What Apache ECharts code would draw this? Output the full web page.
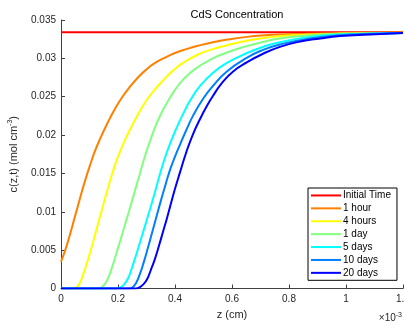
<!DOCTYPE html>
<html>
<head>
<meta charset="utf-8">
<script src="https://cdn.jsdelivr.net/npm/echarts@6/dist/echarts.min.js"></script>
<style>html,body{margin:0;padding:0;background:#fff}#c{width:404px;height:328px}</style>
</head>
<body>
<div id="c"></div>
<script>
// z in units of 1e-3 cm, c in mol cm^-3
const seriesNames = ['Initial Time','1 hour','4 hours','1 day','5 days','10 days','20 days'];
const xTicks = [0, 0.2, 0.4, 0.6, 0.8, 1, 1.2];

const zInit = [0, 1.2];
const cInit = [0.0334, 0.0334];

const zHour = [0,0.014,0.032,0.049,0.067,0.084,0.102,0.119,0.137,0.165,0.189,0.214,0.242,0.270,0.298,0.330,0.365,0.400,0.440,0.477,0.533,0.593,0.653,0.716,0.768,0.874,0.979,1.2];
const cHour = [0.0035,0.0049,0.0071,0.0094,0.0118,0.0140,0.0161,0.0179,0.0195,0.0217,0.0234,0.0249,0.0263,0.0275,0.0285,0.0294,0.0301,0.0307,0.0312,0.0316,0.0321,0.0325,0.0328,0.0330,0.0331,0.0332,0.0333,0.0334];

const z4h = [0,0.042,0.053,0.067,0.081,0.095,0.109,0.123,0.137,0.151,0.165,0.179,0.200,0.225,0.242,0.260,0.284,0.305,0.333,0.365,0.393,0.428,0.481,0.533,0.593,0.653,0.716,0.768,0.874,0.979,1.2];
const c4h = [0,0,0.0001,0.0008,0.0022,0.0038,0.0056,0.0075,0.0094,0.0113,0.0131,0.0149,0.0172,0.0194,0.0207,0.0220,0.0236,0.0248,0.0261,0.0274,0.0284,0.0294,0.0305,0.0312,0.0318,0.0323,0.0327,0.0329,0.0331,0.0332,0.0333];

const z1d = [0,0.130,0.140,0.154,0.168,0.182,0.196,0.211,0.225,0.239,0.256,0.277,0.295,0.316,0.333,0.354,0.375,0.400,0.428,0.470,0.533,0.593,0.653,0.716,0.768,0.874,0.979,1.2];
const c1d = [0,0,0.0001,0.0006,0.0016,0.0031,0.0048,0.0066,0.0084,0.0101,0.0123,0.0150,0.0173,0.0196,0.0213,0.0230,0.0244,0.0259,0.0272,0.0286,0.0300,0.0309,0.0316,0.0322,0.0326,0.0330,0.0332,0.0333];

const z5d = [0,0.196,0.207,0.221,0.235,0.249,0.263,0.277,0.295,0.312,0.330,0.347,0.368,0.386,0.404,0.425,0.453,0.488,0.533,0.582,0.653,0.709,0.768,0.874,0.979,1.084,1.2];
const c5d = [0,0,0.0001,0.0005,0.0013,0.0027,0.0043,0.0060,0.0082,0.0103,0.0126,0.0149,0.0174,0.0192,0.0208,0.0225,0.0245,0.0264,0.0281,0.0294,0.0307,0.0315,0.0321,0.0328,0.0331,0.0332,0.0333];

const z10d = [0,0.239,0.249,0.263,0.277,0.291,0.305,0.319,0.333,0.347,0.365,0.382,0.400,0.418,0.439,0.463,0.498,0.533,0.582,0.653,0.709,0.768,0.874,0.979,1.084,1.2];
const c10d = [0,0,0.0001,0.0007,0.0019,0.0035,0.0053,0.0072,0.0091,0.0110,0.0133,0.0154,0.0172,0.0188,0.0206,0.0225,0.0247,0.0264,0.0283,0.0301,0.0311,0.0318,0.0326,0.0330,0.0332,0.0333];

const z20d = [0,0.263,0.274,0.288,0.302,0.316,0.330,0.344,0.358,0.372,0.386,0.400,0.418,0.439,0.463,0.488,0.512,0.533,0.565,0.604,0.653,0.709,0.768,0.839,0.909,0.979,1.084,1.2];
const c20d = [0,0,0.0001,0.0005,0.0012,0.0025,0.0039,0.0056,0.0074,0.0092,0.0111,0.0130,0.0152,0.0177,0.0201,0.0221,0.0238,0.0251,0.0268,0.0283,0.0295,0.0306,0.0315,0.0322,0.0326,0.0329,0.0331,0.0333];

const colors = ['#ff0000','#ff8000','#ffff00','#80ff80','#00ffff','#0080ff','#0000ff'];
const zs = [zInit, zHour, z4h, z1d, z5d, z10d, z20d];
const cs = [cInit, cHour, c4h, c1d, c5d, c10d, c20d];

const font = 'Liberation Sans, Arial, Helvetica, sans-serif';
const chart = echarts.init(document.getElementById('c'), null, {renderer: 'canvas'});
chart.setOption({
  animation: false,
  backgroundColor: '#ffffff',
  title: {
    text: 'CdS Concentration', left: 232, top: 4, textAlign: 'center',
    textStyle: {fontFamily: font, fontSize: 11, fontWeight: 'normal', color: '#000'}
  },
  grid: {left: 61, right: 1, top: 20, bottom: 39.5, containLabel: false, outerBoundsMode: 'none'},
  legend: {
    orient: 'vertical', left: 308, top: 188,
    padding: [1, 6, 1, 3], itemGap: 0, itemWidth: 30, itemHeight: 2,
    borderColor: '#000', borderWidth: 1, backgroundColor: '#fff', borderRadius: 0,
    icon: 'rect',
    textStyle: {fontFamily: font, fontSize: 10, color: '#000', lineHeight: 12.9, padding: [0,0,0,-3]},
    data: seriesNames
  },
  xAxis: {
    type: 'value', min: 0, max: 1.2, interval: 0.2,
    name: 'z (cm)', nameLocation: 'middle', nameGap: 18,
    nameTextStyle: {fontFamily: font, fontSize: 11, color: '#262626'},
    axisLine: {show: true, lineStyle: {color: '#404040', width: 1}},
    axisTick: {show: true, inside: true, length: 4, lineStyle: {color: '#404040'}},
    axisLabel: {fontFamily: font, fontSize: 10, color: '#262626', margin: 6,
      formatter: v => { const t = xTicks.find(x => Math.abs(x - v) < 1e-9); return t === undefined ? '' : String(t); }},
    splitLine: {show: false}
  },
  yAxis: {
    type: 'value', min: 0, max: 0.035, interval: 0.005,
    name: 'c(z,t) (mol cm{sup|-3})', nameLocation: 'middle', nameGap: 41,
    nameTextStyle: {fontFamily: font, fontSize: 11, color: '#262626',
      rich: {sup: {fontFamily: font, fontSize: 7, color: '#262626', verticalAlign: 'bottom', padding: [0,0,6,0]}}},
    axisLine: {show: true, lineStyle: {color: '#404040', width: 1}},
    axisTick: {show: true, inside: true, length: 4, lineStyle: {color: '#404040'}},
    axisLabel: {fontFamily: font, fontSize: 10, color: '#262626', margin: 5,
      formatter: v => String(parseFloat(v.toFixed(4)))},
    splitLine: {show: false}
  },
  graphic: [{
    type: 'text', right: 2, top: 312,
    style: {text: '×10{s|-3}', fontFamily: font, fontSize: 10, fill: '#262626',
      rich: {s: {fontFamily: font, fontSize: 7, fill: '#262626', verticalAlign: 'bottom', padding: [0,0,5,0]}}}
  }],
  series: seriesNames.map((n, i) => ({
    name: n, type: 'line', showSymbol: false, smooth: 0.5,
    lineStyle: {color: colors[i], width: 2}, itemStyle: {color: colors[i]},
    data: zs[i].map((z, k) => [z, cs[i][k]])
  }))
});
</script>
</body>
</html>
